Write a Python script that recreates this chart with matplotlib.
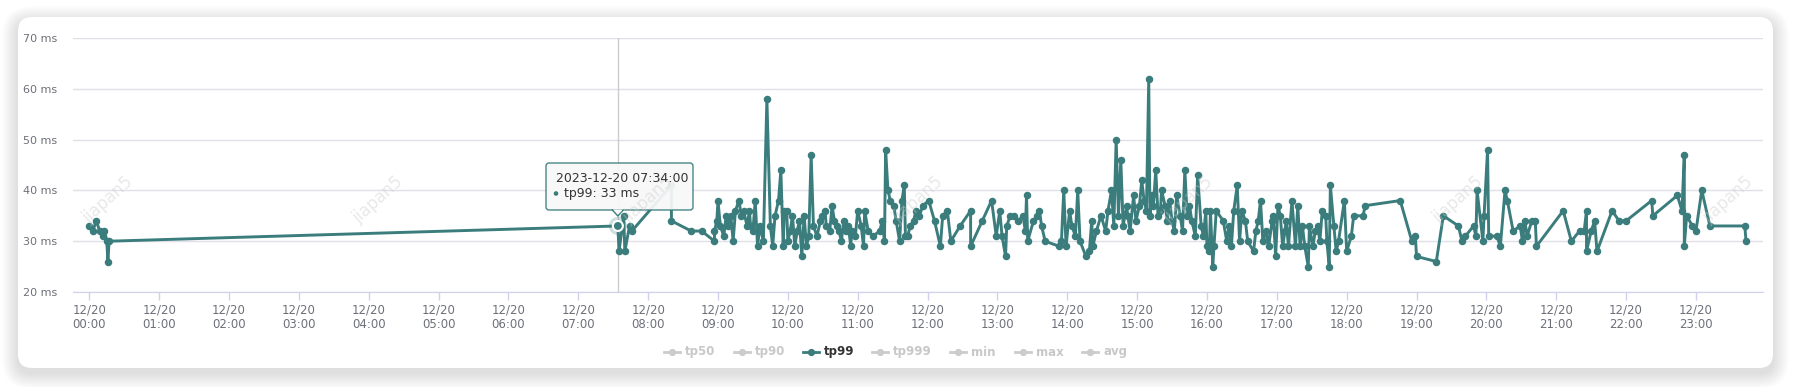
import numpy as np
import pandas as pd
import matplotlib
matplotlib.use("Agg")
import matplotlib.pyplot as plt
import matplotlib.dates as mdates
from matplotlib.patches import FancyBboxPatch, Polygon, Circle

# tp99 latency samples, 2023-12-20
times = [
    "00:00", "00:03", "00:06", "00:09", "00:12", "00:13", "00:15", "00:16", "00:17",
    "07:34", "07:35", "07:39", "07:40", "07:44", "07:46", "08:20", "08:20", "08:37",
    "08:46", "08:57", "08:57", "08:59", "09:00", "09:02", "09:05", "09:07", "09:09",
    "09:11", "09:13", "09:15", "09:18", "09:20", "09:22", "09:25", "09:27", "09:28",
    "09:30", "09:32", "09:34", "09:36", "09:39", "09:42", "09:45", "09:47", "09:49",
    "09:52", "09:54", "09:56", "09:57", "09:59", "10:00", "10:02", "10:04", "10:06",
    "10:08", "10:10", "10:12", "10:14", "10:16", "10:18", "10:20", "10:22", "10:25",
    "10:28", "10:29", "10:32", "10:33", "10:36", "10:38", "10:40", "10:42", "10:44",
    "10:46", "10:48", "10:50", "10:52", "10:54", "10:55", "10:58", "11:00", "11:03",
    "11:05", "11:06", "11:09", "11:13", "11:19", "11:21", "11:23", "11:24", "11:26",
    "11:28", "11:31", "11:33", "11:36", "11:38", "11:40", "11:41", "11:43", "11:45",
    "11:48", "11:50", "11:53", "11:56", "12:01", "12:06", "12:11", "12:13", "12:17",
    "12:20", "12:28", "12:37", "12:37", "12:47", "12:55", "12:59", "13:02", "13:04",
    "13:07", "13:08", "13:11", "13:14", "13:18", "13:22", "13:24", "13:25", "13:26",
    "13:31", "13:34", "13:36", "13:38", "13:41", "13:53", "13:55", "13:57", "13:59",
    "14:02", "14:04", "14:07", "14:09", "14:11", "14:16", "14:19", "14:21", "14:22",
    "14:25", "14:29", "14:33", "14:35", "14:38", "14:40", "14:42", "14:44", "14:46",
    "14:48", "14:51", "14:52", "14:54", "14:57", "14:59", "15:02", "15:04", "15:06",
    "15:08", "15:10", "15:11", "15:13", "15:14", "15:16", "15:18", "15:20", "15:21",
    "15:24", "15:26", "15:28", "15:30", "15:32", "15:34", "15:37", "15:39", "15:41",
    "15:43", "15:45", "15:47", "15:50", "15:52", "15:55", "15:57", "15:59", "16:00",
    "16:02", "16:03", "16:05", "16:06", "16:08", "16:14", "16:17", "16:19", "16:21",
    "16:23", "16:26", "16:28", "16:30", "16:33", "16:35", "16:40", "16:42", "16:44",
    "16:46", "16:48", "16:51", "16:53", "16:56", "16:57", "16:59", "17:01", "17:03",
    "17:05", "17:07", "17:08", "17:10", "17:13", "17:16", "17:18", "17:20", "17:22",
    "17:24", "17:27", "17:28", "17:31", "17:33", "17:35", "17:37", "17:39", "17:42",
    "17:43", "17:45", "17:46", "17:49", "17:51", "17:53", "17:58", "18:00", "18:04",
    "18:06", "18:14", "18:16", "18:46", "18:56", "18:59", "19:00", "19:17", "19:23",
    "19:36", "19:39", "19:42", "19:49", "19:51", "19:52", "19:57", "19:58", "20:01",
    "20:02", "20:09", "20:12", "20:16", "20:18", "20:23", "20:29", "20:31", "20:33",
    "20:35", "20:39", "20:42", "20:43", "21:06", "21:13", "21:20", "21:24", "21:26",
    "21:26", "21:30", "21:33", "21:35", "21:48", "21:54", "22:00", "22:22", "22:23",
    "22:44", "22:48", "22:50", "22:50", "22:52", "22:57", "23:00", "23:05", "23:12",
    "23:42", "23:43",
]
tp99 = [
    33, 32, 34, 32, 31, 32, 30, 26, 30,
    33, 28, 35, 28, 33, 32, 41, 34, 32,
    32, 30, 32, 34, 38, 33, 31, 35, 33,
    35, 30, 36, 38, 35, 36, 33, 36, 33,
    32, 38, 29, 33, 30, 58, 33, 29, 35,
    38, 44, 29, 36, 36, 30, 32, 35, 29,
    32, 34, 27, 35, 29, 31, 47, 33, 31,
    34, 35, 36, 33, 32, 37, 34, 33, 32,
    30, 34, 32, 33, 29, 32, 31, 36, 33,
    29, 36, 32, 31, 32, 34, 30, 48, 40,
    38, 37, 34, 30, 38, 41, 31, 31, 33,
    34, 36, 35, 37, 38, 34, 29, 35, 36,
    30, 33, 36, 29, 34, 38, 31, 36, 31,
    27, 33, 35, 35, 34, 35, 32, 39, 30,
    34, 35, 36, 33, 30, 29, 30, 40, 29,
    36, 33, 31, 40, 30, 27, 28, 34, 29,
    32, 35, 32, 36, 40, 33, 50, 35, 46,
    33, 37, 35, 32, 39, 34, 37, 42, 38,
    36, 62, 35, 39, 37, 44, 35, 36, 40,
    37, 34, 38, 34, 32, 39, 35, 32, 44,
    35, 37, 34, 31, 43, 33, 31, 36, 29,
    28, 36, 25, 29, 36, 34, 30, 33, 29,
    36, 41, 30, 36, 34, 30, 28, 32, 34,
    38, 30, 32, 29, 34, 35, 27, 37, 35,
    29, 32, 34, 29, 38, 29, 37, 29, 33,
    29, 25, 33, 29, 32, 33, 30, 36, 35,
    30, 25, 41, 33, 28, 30, 38, 28, 31,
    35, 35, 37, 38, 30, 31, 27, 26, 35,
    33, 30, 31, 33, 31, 40, 30, 35, 48,
    31, 31, 29, 40, 38, 32, 33, 30, 34,
    31, 34, 34, 29, 36, 30, 32, 32, 36,
    28, 32, 34, 28, 36, 34, 34, 38, 35,
    39, 36, 47, 29, 35, 33, 32, 40, 33,
    33, 30,
]
legend_names = ["tp50", "tp90", "tp99", "tp999", "min", "max", "avg"]
active_series = "tp99"
hover_time = "07:34"
hover_value = 33
y_ticks = [20, 30, 40, 50, 60, 70]

TEAL = "#3a7d7c"
GRAY_TXT = "#6e7079"
W, H = 1797, 387

dates = pd.to_datetime(["2023-12-20 " + t for t in times])
hover_dt = pd.Timestamp("2023-12-20 " + hover_time)

fig = plt.figure(figsize=(W / 100, H / 100), dpi=100)
fig.patch.set_facecolor("white")

# background layer in pixel coords: card + soft shadow
bg = fig.add_axes([0, 0, 1, 1], zorder=0)
bg.set_xlim(0, W); bg.set_ylim(H, 0); bg.axis("off")
cx, cy, cw, ch = 18, 17, 1755, 351
for i in range(16, 0, -1):
    bg.add_patch(FancyBboxPatch((cx - i, cy - i + 5), cw + 2 * i, ch + 2 * i,
                                boxstyle="round,pad=0,rounding_size=%d" % (14 + i),
                                fc="black", ec="none", alpha=0.006))
bg.add_patch(FancyBboxPatch((cx, cy), cw, ch, boxstyle="round,pad=0,rounding_size=14",
                            fc="white", ec="none"))

# main chart
ax = fig.add_axes([73 / W, 1 - 292 / H, (1763 - 73) / W, (292 - 38) / H], zorder=1)
ax.set_facecolor("none")
ax.plot(dates, tp99, color=TEAL, lw=2.1, marker="o", ms=4.4, mec=TEAL, mfc=TEAL,
        solid_joinstyle="round", zorder=3)
ax.axvline(hover_dt, color="#cccccc", lw=1, zorder=2)

ax.set_xlim(pd.Timestamp("2023-12-19 23:46"), pd.Timestamp("2023-12-20 23:57:36"))
ax.set_ylim(20, 70)
ax.set_yticks(y_ticks)
ax.set_yticklabels(["%d ms" % v for v in y_ticks])
ax.xaxis.set_major_locator(mdates.HourLocator(interval=1))
ax.xaxis.set_major_formatter(mdates.DateFormatter("%m/%d\n%H:%M"))
ax.yaxis.grid(True, color="#e0e0e6", lw=1)
ax.set_axisbelow(True)
for s in ["top", "right", "left"]:
    ax.spines[s].set_visible(False)
ax.spines["bottom"].set_color("#cfd0ec")
ax.tick_params(axis="y", length=0, pad=11.5, labelsize=8, labelcolor=GRAY_TXT)
ax.tick_params(axis="x", length=5.5, width=1, color="#cfd0ec", pad=2.5,
               labelsize=8.5, labelcolor=GRAY_TXT)
for lab in ax.get_xticklabels():
    lab.set_linespacing(1.2)

# overlay layer in pixel coords: watermark, tooltip, legend
top = fig.add_axes([0, 0, 1, 1], zorder=2)
top.set_xlim(0, W); top.set_ylim(H, 0); top.axis("off")
top.patch.set_alpha(0)

for wx in range(108, 1760, 270):
    top.text(wx, 200, "jiapan5", rotation=42, fontsize=12, color="#c8c8c8", alpha=0.4,
             ha="center", va="center")

px, py = ax.transData.transform((mdates.date2num(hover_dt), hover_value))
hx, hy = px, H - py
top.add_patch(Circle((hx, hy), 9, fc=TEAL, ec="none", alpha=0.25))
top.add_patch(Circle((hx, hy), 5, fc=TEAL, ec="white", lw=1.5))

bx0, bx1, by0, by1 = 546, 693, 163, 210
top.add_patch(FancyBboxPatch((bx0, by0), bx1 - bx0, by1 - by0,
                             boxstyle="round,pad=0,rounding_size=3",
                             fc="#f8f8f8", ec=TEAL, lw=1, alpha=0.93))
top.add_patch(Polygon([[hx - 5, by1 - 0.5], [hx + 5, by1 - 0.5], [hx, by1 + 6]],
                      closed=True, fc="#f8f8f8", ec="none"))
top.plot([hx - 5.5, hx, hx + 5.5], [by1, by1 + 6, by1], color=TEAL, lw=1)
top.text(bx0 + 10, 178, hover_dt.strftime("%Y-%m-%d %H:%M:%S"), fontsize=9,
         color="#333333", va="center")
top.add_patch(Circle((bx0 + 10, 193.5), 2.3, fc=TEAL, ec="none"))
top.text(bx0 + 18, 193.5, "%s: %d ms" % (active_series, hover_value), fontsize=9,
         color="#333333", va="center")

# legend
leg_x = [672, 742, 811, 880, 958, 1023, 1090]
for name, lx in zip(legend_names, leg_x):
    c = TEAL if name == active_series else "#cccccc"
    tc = "#333333" if name == active_series else "#c8c8c8"
    top.plot([lx - 8, lx + 8], [352, 352], color=c, lw=2)
    top.plot([lx], [352], "o", color=c, ms=4.2)
    top.text(lx + 13, 352, name, fontsize=8.5, fontweight="bold", color=tc, va="center")

fig.savefig("out.png", dpi=100)
